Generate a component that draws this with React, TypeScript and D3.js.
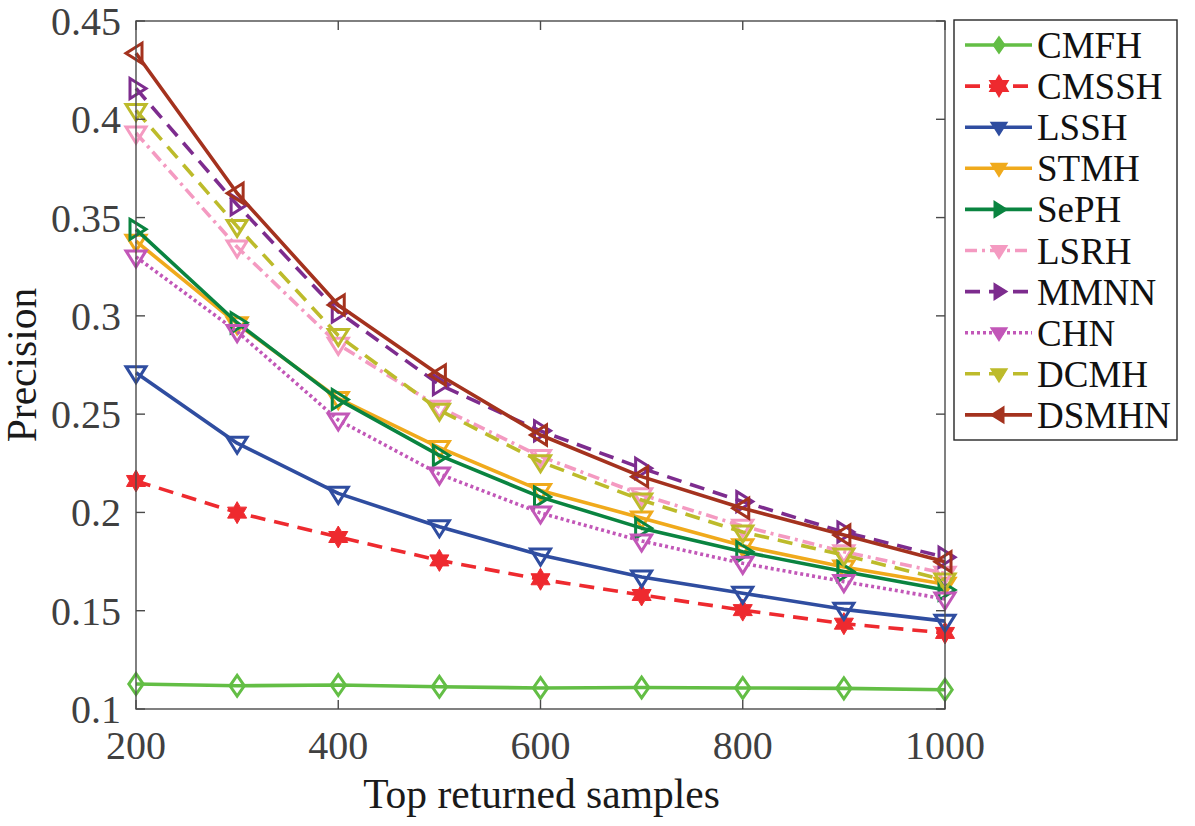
import React from "react";
import * as d3 from "d3";

const samples = [200, 300, 400, 500, 600, 700, 800, 900, 1000];
const xTicks = [200, 400, 600, 800, 1000];
const yTicks = [0.1, 0.15, 0.2, 0.25, 0.3, 0.35, 0.4, 0.45];

const CMFH = [0.1127, 0.1118, 0.1122, 0.1113, 0.1107, 0.1109, 0.1107, 0.1105, 0.1098];
const CMSSH = [0.216, 0.1999, 0.1875, 0.1756, 0.166, 0.158, 0.1503, 0.1434, 0.1387];
const LSSH = [0.2711, 0.2352, 0.2097, 0.1927, 0.1783, 0.1672, 0.1589, 0.1507, 0.1447];
const STMH = [0.338, 0.296, 0.258, 0.233, 0.2112, 0.1972, 0.183, 0.1722, 0.1635];
const SePH = [0.344, 0.2965, 0.2575, 0.229, 0.2078, 0.192, 0.18, 0.17, 0.1605];
const LSRH = [0.393, 0.335, 0.2855, 0.2535, 0.2285, 0.209, 0.193, 0.18, 0.169];
const MMNN = [0.4157, 0.3565, 0.302, 0.265, 0.2415, 0.2225, 0.2055, 0.19, 0.1772];
const CHN = [0.33, 0.292, 0.247, 0.2195, 0.1997, 0.1855, 0.1741, 0.1648, 0.156];
const DCMH = [0.4045, 0.3455, 0.29, 0.252, 0.2258, 0.2063, 0.19, 0.1783, 0.1656];
const DSMHN = [0.4336, 0.3624, 0.3055, 0.2699, 0.2394, 0.2182, 0.2021, 0.1885, 0.1749];

const seriesNames = ["CMFH", "CMSSH", "LSSH", "STMH", "SePH", "LSRH", "MMNN", "CHN", "DCMH", "DSMHN"];
const seriesValues = [CMFH, CMSSH, LSSH, STMH, SePH, LSRH, MMNN, CHN, DCMH, DSMHN];
const seriesColors = ["#63BE45", "#EE2A2F", "#2F4DA0", "#F0AA1C", "#0A8440", "#F49AC1", "#7D2C8E", "#C257B8", "#BDBB2B", "#A4321E"];
const seriesDash = ["", "15 9", "", "", "", "12 5 3 5", "15 9", "3 3", "15 9", ""];
const seriesMarker = ["diamond", "hexagram", "down", "down", "right", "down", "right", "down", "down", "left"];

const FONT = '"Liberation Serif", "Times New Roman", Times, serif';

function markerPath(type: string, cx: number, cy: number, s: number): string {
  const h = s / 2;
  switch (type) {
    case "diamond": {
      const w = s * 0.36, hh = s * 0.52;
      return `M${cx},${cy - hh}L${cx + w},${cy}L${cx},${cy + hh}L${cx - w},${cy}Z`;
    }
    case "down":
      return `M${cx - h},${cy - h * 0.6}L${cx + h},${cy - h * 0.6}L${cx},${cy + h}Z`;
    case "right":
      return `M${cx - h * 0.6},${cy - h}L${cx + h},${cy}L${cx - h * 0.6},${cy + h}Z`;
    case "left":
      return `M${cx + h * 0.6},${cy - h}L${cx - h},${cy}L${cx + h * 0.6},${cy + h}Z`;
    case "hexagram": {
      const r = h;
      const pts: string[] = [];
      for (let i = 0; i < 12; i++) {
        const a = (Math.PI / 6) * i - Math.PI / 2;
        const rr = i % 2 === 0 ? r : r * 0.577;
        pts.push(`${cx + rr * Math.cos(a)},${cy + rr * Math.sin(a)}`);
      }
      return "M" + pts.join("L") + "Z";
    }
  }
  return "";
}

export default function App() {
  const W = 1195, H = 826;
  const left = 136, right = 945, top = 21, bottom = 709;
  const x = d3.scaleLinear().domain([200, 1000]).range([left, right]);
  const y = d3.scaleLinear().domain([0.1, 0.45]).range([bottom, top]);
  const axisColor = "#4a4a4a";
  const line = d3.line<number>().x((_, i) => x(samples[i])).y((v) => y(v));

  const legX = 954, legY = 20, legW = 223, legH = 420;
  const rowY = (i: number) => 45 + i * 41.1;
  const txt = (size: number) => ({ fontFamily: FONT, fontSize: size + "px" });

  return (
    <svg width={W} height={H} style={{ position: "absolute", left: 0, top: 0, background: "#fff", fontFamily: FONT }}>
      <rect x={0} y={0} width={W} height={H} fill="#fff" />
      {seriesValues.map((vals, si) => (
        <g key={seriesNames[si]}>
          <path d={line(vals) || ""} fill="none" stroke={seriesColors[si]} strokeWidth={3.6}
            strokeDasharray={seriesDash[si] || undefined} strokeLinejoin="round" />
          {vals.map((v, i) => (
            <path key={i} d={markerPath(seriesMarker[si], x(samples[i]), y(v), seriesMarker[si] === "hexagram" ? 22 : 20)}
              fill={seriesMarker[si] === "hexagram" ? seriesColors[si] : "none"}
              stroke={seriesColors[si]} strokeWidth={seriesMarker[si] === "hexagram" ? 1 : 3} strokeLinejoin="miter" />
          ))}
        </g>
      ))}
      <rect x={left} y={top} width={right - left} height={bottom - top} fill="none" stroke={axisColor} strokeWidth={1.4} />
      {xTicks.map((t) => (
        <g key={"x" + t}>
          <line x1={x(t)} x2={x(t)} y1={bottom} y2={bottom - 9} stroke={axisColor} strokeWidth={1.4} />
          <line x1={x(t)} x2={x(t)} y1={top} y2={top + 9} stroke={axisColor} strokeWidth={1.4} />
          <text x={x(t)} y={bottom + 50} textAnchor="middle" style={txt(40)} fill="#404040">{t}</text>
        </g>
      ))}
      {yTicks.map((t) => (
        <g key={"y" + t}>
          <line x1={left} x2={left + 9} y1={y(t)} y2={y(t)} stroke={axisColor} strokeWidth={1.4} />
          <line x1={right} x2={right - 9} y1={y(t)} y2={y(t)} stroke={axisColor} strokeWidth={1.4} />
          <text x={left - 15} y={y(t) + 14} textAnchor="end" style={txt(40)} fill="#404040">{String(t)}</text>
        </g>
      ))}
      <text x={(left + right) / 2 + 1} y={808} textAnchor="middle" style={txt(41.5)} fill="#1a1a1a">Top returned samples</text>
      <text transform={`translate(36, ${(top + bottom) / 2}) rotate(-90)`} textAnchor="middle" style={txt(41.5)} fill="#1a1a1a">Precision</text>
      <rect x={legX} y={legY} width={legW} height={legH} fill="#fff" stroke="#262626" strokeWidth={1.4} />
      {seriesNames.map((name, i) => (
        <g key={"leg" + name}>
          <line x1={965} x2={1032} y1={rowY(i)} y2={rowY(i)} stroke={seriesColors[i]} strokeWidth={3.6}
            strokeDasharray={seriesDash[i] || undefined} />
          <path d={markerPath(seriesMarker[i], 999, rowY(i), seriesMarker[i] === "hexagram" ? 20 : 15)}
            fill={seriesColors[i]} stroke={seriesColors[i]} strokeWidth={2} />
          <text x={1037} y={rowY(i) + 13} style={txt(37)} fill="#111">{name}</text>
        </g>
      ))}
    </svg>
  );
}
